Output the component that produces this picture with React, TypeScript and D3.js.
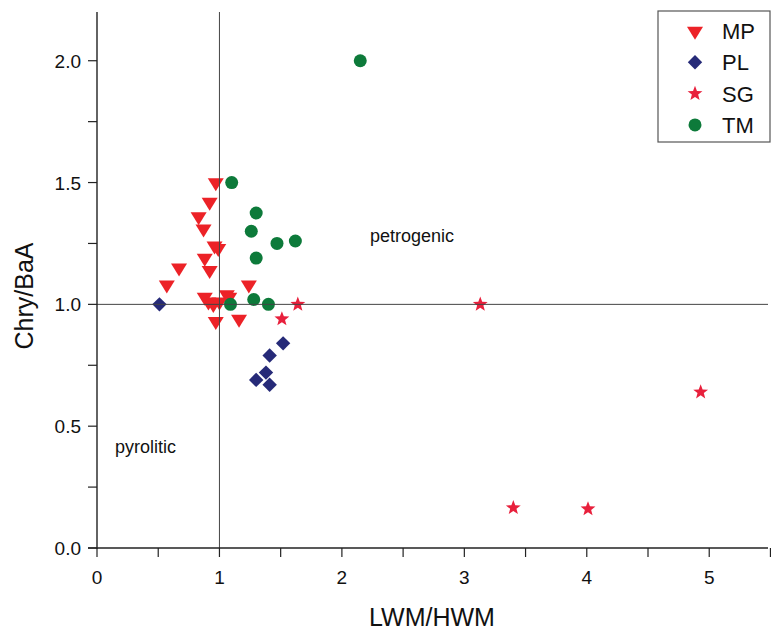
import React from "react";
import * as d3 from "d3";

const mpX = [0.97, 0.92, 0.83, 0.87, 0.96, 0.99, 0.88, 0.92, 0.67, 0.57, 1.24, 0.88, 0.91, 0.95, 1.0, 1.06, 1.08, 0.97, 1.16];
const mpY = [1.50, 1.42, 1.36, 1.31, 1.24, 1.23, 1.19, 1.14, 1.15, 1.08, 1.08, 1.03, 1.01, 1.00, 1.01, 1.04, 1.03, 0.93, 0.94];
const plX = [0.51, 1.52, 1.41, 1.38, 1.30, 1.41];
const plY = [1.00, 0.84, 0.79, 0.72, 0.69, 0.67];
const sgX = [1.64, 1.51, 3.13, 3.40, 4.01, 4.93];
const sgY = [1.00, 0.94, 1.00, 0.165, 0.16, 0.64];
const tmX = [2.15, 1.10, 1.30, 1.26, 1.47, 1.62, 1.30, 1.28, 1.09, 1.40];
const tmY = [2.00, 1.50, 1.375, 1.30, 1.25, 1.26, 1.19, 1.02, 1.00, 1.00];

const xMajor = [0, 1, 2, 3, 4, 5];
const xMinor = [0.5, 1.5, 2.5, 3.5, 4.5, 5.5];
const yMajor = [0, 0.5, 1.0, 1.5, 2.0];
const yMinor = [0.25, 0.75, 1.25, 1.75];

const seriesNames = ["MP", "PL", "SG", "TM"];
const colors = { MP: "#ec2227", PL: "#262a78", SG: "#e8203c", TM: "#0d7a3a" };

const FONT = "'Liberation Sans', Arial, Helvetica, sans-serif";

function markerPath(kind: string): string {
  if (kind === "MP") {
    const w = 8, h = 13;
    return `M${-w},${-h / 3}L${w},${-h / 3}L0,${(2 * h) / 3}Z`;
  }
  if (kind === "PL") {
    const r = 7.2;
    return `M0,${-r}L${r},0L0,${r}L${-r},0Z`;
  }
  if (kind === "SG") {
    const R = 7.8, r = 3.3;
    const pts: string[] = [];
    for (let i = 0; i < 10; i++) {
      const a = -Math.PI / 2 + (i * Math.PI) / 5;
      const rr = i % 2 === 0 ? R : r;
      pts.push(`${(rr * Math.cos(a)).toFixed(2)},${(rr * Math.sin(a)).toFixed(2)}`);
    }
    return "M" + pts.join("L") + "Z";
  }
  return d3.symbol(d3.symbolCircle, Math.PI * 6.5 * 6.5)() as string;
}

export default function App() {
  const left = 97, right = 768, top = 12, bottom = 548;
  const x = d3.scaleLinear().domain([0, 5.48]).range([left, right]);
  const y = d3.scaleLinear().domain([0, 2.2]).range([bottom, top]);

  const series = [
    { name: "MP", xs: mpX, ys: mpY },
    { name: "PL", xs: plX, ys: plY },
    { name: "SG", xs: sgX, ys: sgY },
    { name: "TM", xs: tmX, ys: tmY },
  ];

  const axisColor = "#222";
  const tickLen = 9;

  return (
    <svg
      width={771}
      height={635}
      style={{ position: "absolute", left: 0, top: 0, display: "block", background: "#fff" }}
      fontFamily={FONT}
    >
      <rect x={0} y={0} width={771} height={635} fill="#fff" />
      {series.map((s) =>
        s.xs.map((xv, i) => (
          <path
            key={s.name + i}
            d={markerPath(s.name)}
            transform={`translate(${x(xv)},${y(s.ys[i])})`}
            fill={(colors as any)[s.name]}
          />
        ))
      )}
      <line x1={x(1)} x2={x(1)} y1={top} y2={bottom} stroke="#444" strokeWidth={1} />
      <line x1={left} x2={right} y1={y(1)} y2={y(1)} stroke="#444" strokeWidth={1} />

      <line x1={left} x2={left} y1={top} y2={bottom + 1} stroke={axisColor} strokeWidth={1.4} />
      <line x1={left - tickLen} x2={right} y1={bottom} y2={bottom} stroke={axisColor} strokeWidth={1.4} />
      {xMajor.concat(xMinor).map((t) => (
        <line key={"xt" + t} x1={x(t)} x2={x(t)} y1={bottom} y2={bottom + tickLen} stroke={axisColor} strokeWidth={1.2} />
      ))}
      {yMajor.concat(yMinor).map((t) => (
        <line key={"yt" + t} x1={left - tickLen} x2={left} y1={y(t)} y2={y(t)} stroke={axisColor} strokeWidth={1.2} />
      ))}
      {xMajor.map((t) => (
        <text key={"xl" + t} x={x(t)} y={584} textAnchor="middle" fontSize={19} fill="#111">
          {d3.format("d")(t)}
        </text>
      ))}
      {yMajor.map((t) => (
        <text key={"yl" + t} x={81} y={y(t) + 7} textAnchor="end" fontSize={19} fill="#111">
          {d3.format(".1f")(t)}
        </text>
      ))}
      <text x={432} y={626} textAnchor="middle" fontSize={25} fill="#111">
        LWM/HWM
      </text>
      <text
        transform={`translate(33,296) rotate(-90)`}
        textAnchor="middle"
        fontSize={25}
        fill="#111"
      >
        Chry/BaA
      </text>

      <text x={370} y={242} fontSize={18} fill="#111">petrogenic</text>
      <text x={115} y={453} fontSize={18} fill="#111">pyrolitic</text>

      <rect x={658} y={11} width={112} height={131} fill="#fff" stroke="#555" strokeWidth={1.2} />
      {seriesNames.map((n, i) => (
        <g key={"lg" + n} transform={`translate(0,${31 + i * 31.3})`}>
          <path d={markerPath(n)} transform="translate(695,0)" fill={(colors as any)[n]} />
          <text x={722} y={8} fontSize={22} fill="#111">{n}</text>
        </g>
      ))}
    </svg>
  );
}
